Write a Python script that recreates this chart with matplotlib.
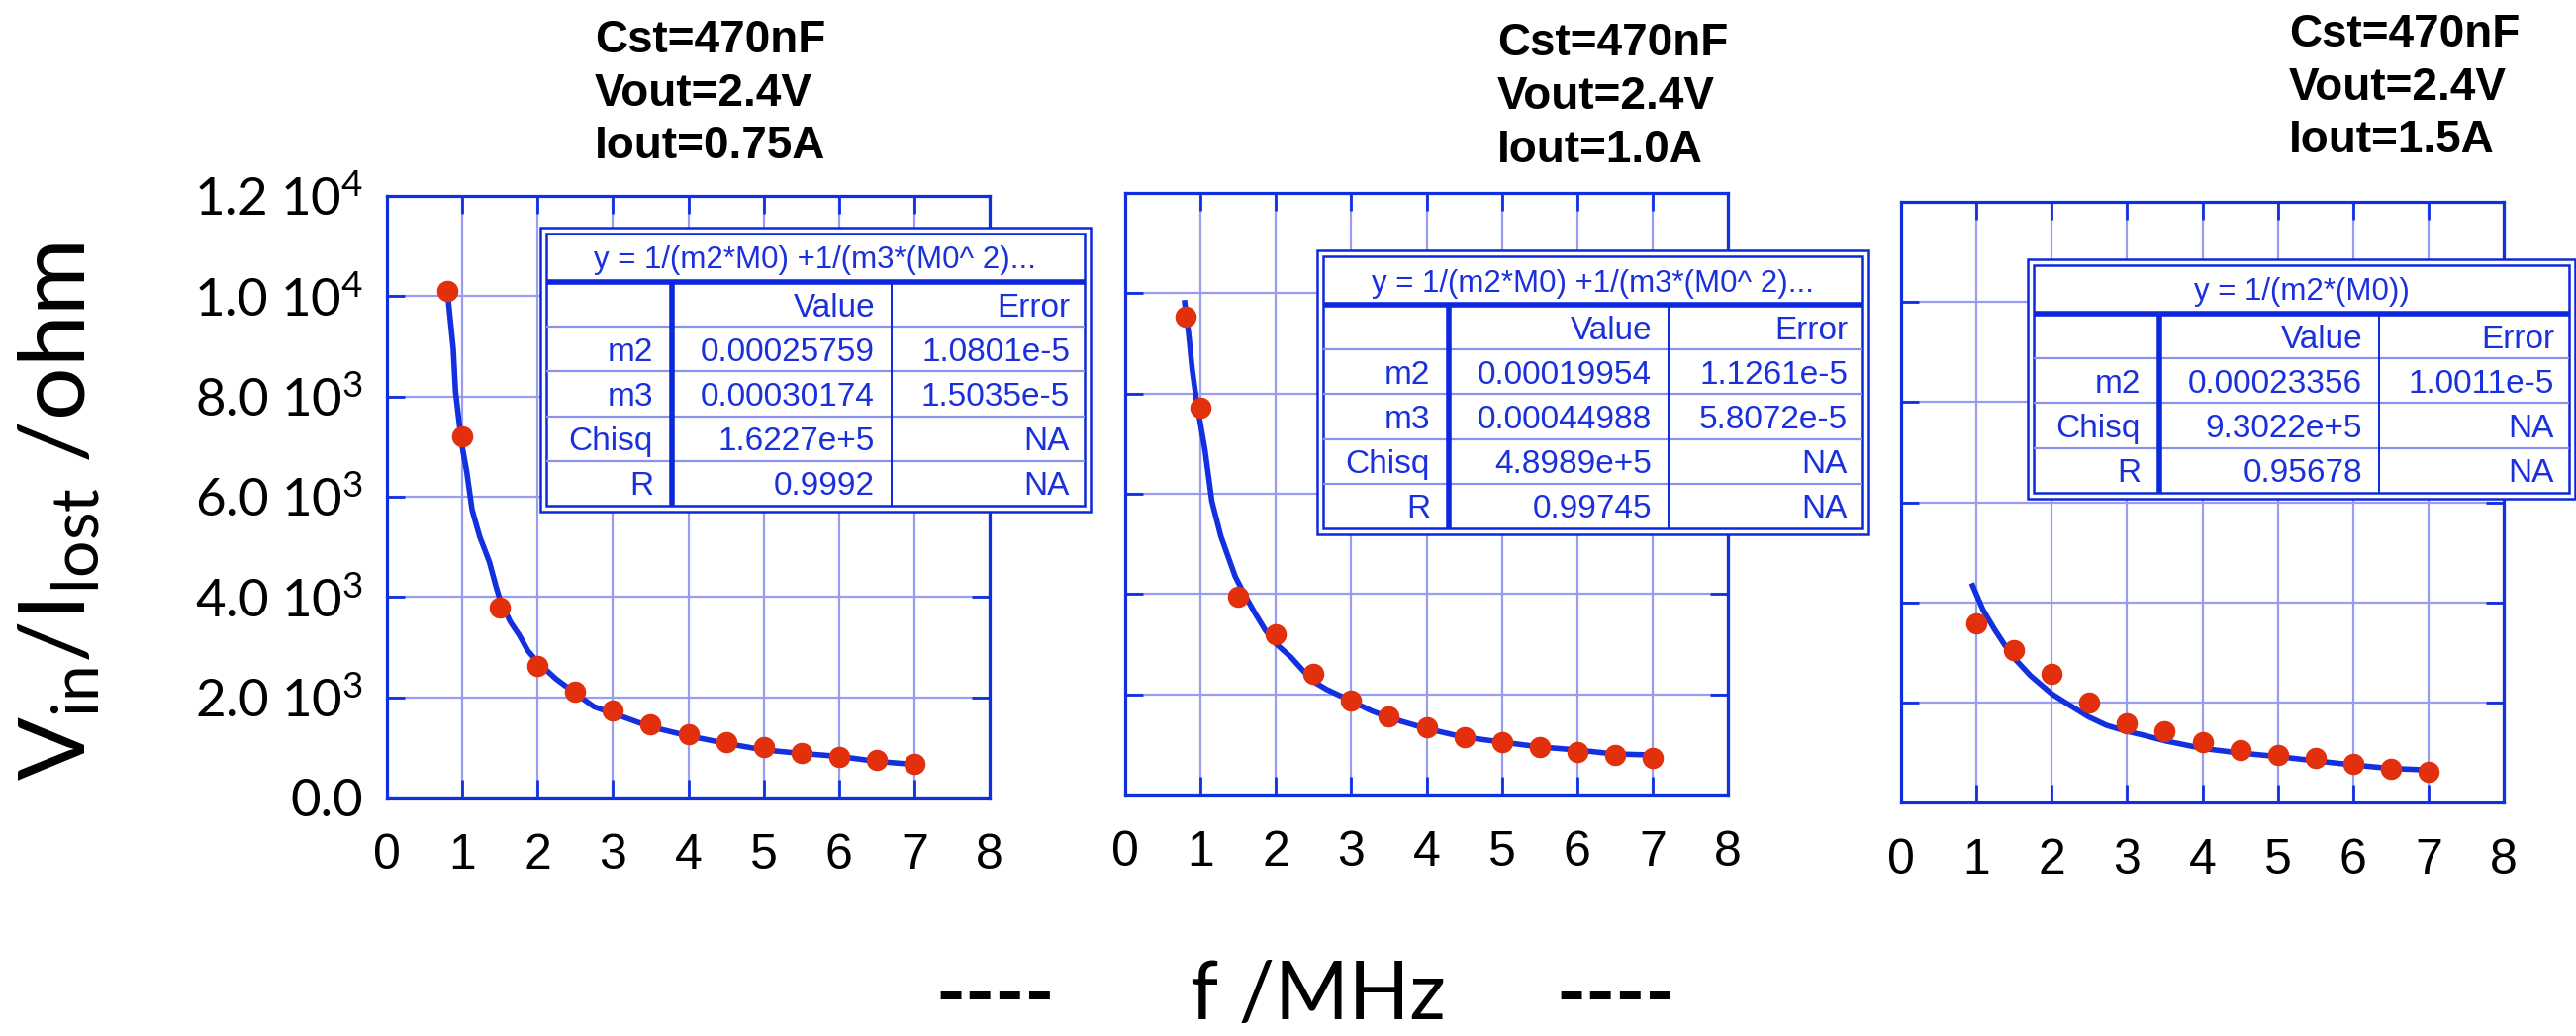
import matplotlib
matplotlib.use("Agg")
import matplotlib.pyplot as plt
from matplotlib.lines import Line2D
from matplotlib.patches import Rectangle

# ---- data ----
f1 = [0.8, 1.0, 1.5, 2.0, 2.5, 3.0, 3.5, 4.0, 4.5, 5.0, 5.5, 6.0, 6.5, 7.0]
r1 = [10100, 7210, 3790, 2630, 2110, 1730, 1470, 1270, 1100, 1000, 890, 800, 750, 680]
fit1_f = [0.81, 0.88, 0.91, 0.99, 1.06, 1.13, 1.23, 1.36, 1.45, 1.51, 1.64, 1.76, 1.87, 2.0,
          2.24, 2.49, 2.75, 3.0, 3.5, 4.0, 4.5, 5.0, 5.5, 6.0, 6.5, 7.0]
fit1_r = [9990, 8950, 8100, 7080, 6490, 5740, 5210, 4700, 4200, 3900, 3500, 3230, 2930, 2700,
          2370, 2090, 1810, 1680, 1410, 1230, 1080, 950, 880, 820, 720, 660]

f2 = [0.8, 1.0, 1.5, 2.0, 2.5, 3.0, 3.5, 4.0, 4.5, 5.0, 5.5, 6.0, 6.5, 7.0]
r2 = [9530, 7720, 3950, 3190, 2410, 1880, 1560, 1350, 1150, 1040, 940, 840, 780, 730]
fit2_f = [0.79, 0.84, 0.89, 0.94, 0.98, 1.06, 1.15, 1.27, 1.46, 1.59, 1.73, 1.86, 2.0, 2.2,
          2.49, 2.67, 2.98, 3.27, 3.51, 3.99, 4.48, 4.98, 5.5, 5.99, 6.49, 6.97]
fit2_r = [9810, 9220, 8470, 7930, 7560, 6860, 5850, 5150, 4350, 3970, 3600, 3280, 3010, 2740,
          2260, 2100, 1880, 1670, 1530, 1320, 1150, 1050, 950, 890, 810, 790]

f3 = [1.0, 1.5, 2.0, 2.5, 3.0, 3.5, 4.0, 4.5, 5.0, 5.5, 6.0, 6.5, 7.0]
r3 = [3580, 3050, 2570, 2000, 1580, 1420, 1200, 1040, 940, 890, 780, 680, 620]
fit3_f = [0.95, 1.09, 1.24, 1.37, 1.51, 1.72, 2.0, 2.22, 2.49, 2.73, 2.98, 3.23, 3.51, 4.0,
          4.49, 4.98, 5.51, 6.0, 6.49, 6.98]
fit3_r = [4330, 3840, 3460, 3160, 2870, 2530, 2170, 1960, 1710, 1540, 1430, 1340, 1230, 1080,
          990, 920, 830, 750, 680, 650]

titles = [["Cst=470nF", "Vout=2.4V", "Iout=0.75A"],
          ["Cst=470nF", "Vout=2.4V", "Iout=1.0A"],
          ["Cst=470nF", "Vout=2.4V", "Iout=1.5A"]]

eq1 = "y = 1/(m2*M0) +1/(m3*(M0^ 2)..."
eq2 = "y = 1/(m2*M0) +1/(m3*(M0^ 2)..."
eq3 = "y = 1/(m2*(M0))"
tab1 = [["", "Value", "Error"],
        ["m2", "0.00025759", "1.0801e-5"],
        ["m3", "0.00030174", "1.5035e-5"],
        ["Chisq", "1.6227e+5", "NA"],
        ["R", "0.9992", "NA"]]
tab2 = [["", "Value", "Error"],
        ["m2", "0.00019954", "1.1261e-5"],
        ["m3", "0.00044988", "5.8072e-5"],
        ["Chisq", "4.8989e+5", "NA"],
        ["R", "0.99745", "NA"]]
tab3 = [["", "Value", "Error"],
        ["m2", "0.00023356", "1.0011e-5"],
        ["Chisq", "9.3022e+5", "NA"],
        ["R", "0.95678", "NA"]]

xticks = list(range(0, 9))
yticks = [0, 2000, 4000, 6000, 8000, 10000, 12000]
ylabels = ["0.0", r"2.0 10$^{3}$", r"4.0 10$^{3}$", r"6.0 10$^{3}$",
           r"8.0 10$^{3}$", r"1.0 10$^{4}$", r"1.2 10$^{4}$"]

# ---- style ----
FRAME = "#1030e0"
GRID = "#9a9cf0"
CURVE = "#1230e0"
RED = "#e2300c"
DARK = "#0c28dc"
LIGHT = "#8a92ee"
TXT = "#1a30dc"

plt.rcParams["font.family"] = ["Liberation Sans", "DejaVu Sans"]
plt.rcParams["mathtext.fontset"] = "custom"
plt.rcParams["mathtext.rm"] = "Lato"
plt.rcParams["mathtext.it"] = "Lato:italic"
plt.rcParams["mathtext.bf"] = "Lato:bold"

W, H = 2603, 1047
DPI = 100
fig = plt.figure(figsize=(W / DPI, H / DPI), dpi=DPI)


def fx(px):
    return px / W


def fy(py):
    return 1 - py / H


# axes boxes in pixels: left, top, right, bottom
boxes = [(391, 198, 1000, 806), (1137, 195, 1746, 803), (1921, 204, 2530, 811)]
series = [(f1, r1, fit1_f, fit1_r), (f2, r2, fit2_f, fit2_r), (f3, r3, fit3_f, fit3_r)]

for i, (l, t, r, b) in enumerate(boxes):
    ax = fig.add_axes([fx(l), fy(b), (r - l) / W, (b - t) / H])
    fx_, ry, cf, cr = series[i]
    ax.plot(cf, cr, color=CURVE, lw=4, zorder=3, solid_joinstyle="round")
    ax.plot(fx_, ry, "o", ms=14.5, color=RED, mec=RED, zorder=4, clip_on=False)
    ax.set_xlim(0, 8)
    ax.set_ylim(0, 12000)
    ax.set_xticks(xticks)
    ax.set_yticks(yticks)
    ax.grid(True, color=GRID, lw=1.6)
    ax.set_axisbelow(True)
    for s in ax.spines.values():
        s.set_color(FRAME)
        s.set_linewidth(2.3)
    ax.tick_params(direction="in", length=13, width=2, color=FRAME,
                   top=True, right=True)
    ax.tick_params(axis="x", labelsize=36, pad=26)
    if i == 0:
        ax.set_yticklabels(ylabels, fontfamily=["Lato", "DejaVu Sans"], fontsize=38)
        ax.tick_params(axis="y", pad=17)
    else:
        ax.tick_params(axis="y", labelleft=False)

# titles
title_pos = [(601, [53, 107, 160]), (1513, [56, 110, 164]), (2313, [47, 101, 154])]
for (x0, bases), lines in zip(title_pos, titles):
    for yb, s in zip(bases, lines):
        fig.text(fx(x0), fy(yb), s, fontsize=33, fontweight="bold",
                 ha="left", va="baseline", color="black")


def hline(y, x1, x2, c, lw):
    fig.add_artist(Line2D([fx(x1), fx(x2)], [fy(y), fy(y)], transform=fig.transFigure,
                          color=c, lw=lw, zorder=7, solid_capstyle="butt"))


def vline(x, y1, y2, c, lw):
    fig.add_artist(Line2D([fx(x), fx(x)], [fy(y1), fy(y2)], transform=fig.transFigure,
                          color=c, lw=lw, zorder=7, solid_capstyle="butt"))


def draw_table(x0, y0, width, eq, rows, head_h=49, row_h=45.2):
    ins = 6
    xi0, yi0, xi1 = x0 + ins, y0 + ins, x0 + width - ins
    yi1 = yi0 + head_h + len(rows) * row_h
    y1 = yi1 + ins
    fig.add_artist(Rectangle((fx(x0), fy(y1)), width / W, (y1 - y0) / H,
                             transform=fig.transFigure, fc="white", ec=DARK, lw=1.8, zorder=6))
    fig.add_artist(Rectangle((fx(xi0), fy(yi1)), (xi1 - xi0) / W, (yi1 - yi0) / H,
                             transform=fig.transFigure, fill=False, ec=DARK, lw=1.8, zorder=7))
    yh = yi0 + head_h
    c1, c2 = xi0 + 127, xi0 + 349
    for k in range(1, len(rows)):
        hline(yh + k * row_h, xi0, xi1, LIGHT, 1.6)
    hline(yh, xi0, xi1, DARK, 4)
    vline(c1, yh, yi1, DARK, 4)
    vline(c2, yh, yi1, DARK, 1.4)
    fig.text(fx((xi0 + xi1) / 2), fy(yi0 + head_h / 2 + 11), eq, fontsize=22.5, color=TXT,
             ha="center", va="baseline", zorder=8)
    rights = [c1 - 19, c2 - 17, xi1 - 15]
    for k, row in enumerate(rows):
        yb = yh + (k + 0.5) * row_h + 12
        for xr, s in zip(rights, row):
            fig.text(fx(xr), fy(yb), s, fontsize=24, color=TXT,
                     ha="right", va="baseline", zorder=8)


draw_table(546, 230, 556, eq1, tab1)
draw_table(1331, 253, 557, eq2, tab2)
draw_table(2049, 262, 553, eq3, tab3)

# axis titles
fig.text(fx(60), fy(517), r"V$_{\mathrm{in}}$/I$_{\mathrm{lost}}$ /ohm", rotation=90,
         fontsize=68, family=["Lato", "DejaVu Sans"], ha="center", va="center")
fig.text(fx(1006), fy(1030), "----", fontsize=58, fontweight="bold",
         family=["Lato", "DejaVu Sans"], ha="center", va="baseline")
fig.text(fx(1332), fy(1030), "f /MHz", fontsize=58,
         family=["Lato", "DejaVu Sans"], ha="center", va="baseline")
fig.text(fx(1633), fy(1030), "----", fontsize=58, fontweight="bold",
         family=["Lato", "DejaVu Sans"], ha="center", va="baseline")

fig.savefig("out.png", dpi=DPI, facecolor="white")
